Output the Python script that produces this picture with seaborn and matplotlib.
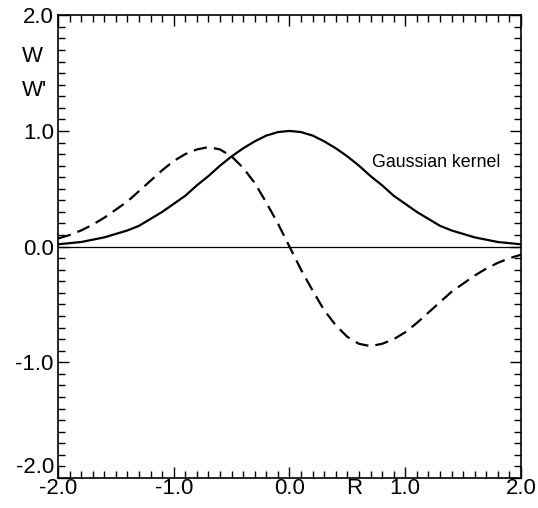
import numpy as np
import pandas as pd
import matplotlib
matplotlib.use("Agg")
import matplotlib.pyplot as plt
import seaborn as sns
from matplotlib.ticker import MultipleLocator

# values, step 0.1 in R
r = [-2.0, -1.9, -1.8, -1.7, -1.6, -1.5, -1.4, -1.3, -1.2, -1.1, -1.0,
     -0.9, -0.8, -0.7, -0.6, -0.5, -0.4, -0.3, -0.2, -0.1, 0.0,
     0.1, 0.2, 0.3, 0.4, 0.5, 0.6, 0.7, 0.8, 0.9, 1.0,
     1.1, 1.2, 1.3, 1.4, 1.5, 1.6, 1.7, 1.8, 1.9, 2.0]
w = [0.02, 0.03, 0.04, 0.06, 0.08, 0.11, 0.14, 0.18, 0.24, 0.30, 0.37,
     0.44, 0.53, 0.61, 0.70, 0.78, 0.85, 0.91, 0.96, 0.99, 1.00,
     0.99, 0.96, 0.91, 0.85, 0.78, 0.70, 0.61, 0.53, 0.44, 0.37,
     0.30, 0.24, 0.18, 0.14, 0.11, 0.08, 0.06, 0.04, 0.03, 0.02]
dw = [0.07, 0.10, 0.14, 0.19, 0.25, 0.32, 0.39, 0.48, 0.57, 0.66, 0.74,
      0.80, 0.84, 0.86, 0.84, 0.78, 0.68, 0.55, 0.38, 0.20, 0.00,
      -0.20, -0.38, -0.55, -0.68, -0.78, -0.84, -0.86, -0.84, -0.80, -0.74,
      -0.66, -0.57, -0.48, -0.39, -0.32, -0.25, -0.19, -0.14, -0.10, -0.07]

ytick_vals = [-2.0, -1.0, 0.0, 1.0, 2.0]
xtick_vals = [-2.0, -1.0, 0.0, 1.0, 2.0]

df = pd.DataFrame({"R": r, "W": w, "dW": dw})

sns.set_theme(style="ticks")
plt.rcParams["font.family"] = ["Liberation Sans", "DejaVu Sans"]
plt.rcParams["text.color"] = "black"

fig = plt.figure(figsize=(5.38, 5.08), dpi=100)
ax = fig.add_axes([0.1078, 0.059, 0.8606, 0.911])

ax.axhline(0.0, color="black", lw=0.9, zorder=1)
sns.lineplot(data=df, x="R", y="W", ax=ax, color="black", lw=1.6)
sns.lineplot(data=df, x="R", y="dW", ax=ax, color="black", lw=1.6,
             dashes=False, linestyle=(0, (6, 3.2)))

ax.set_xlim(-2, 2)
ax.set_ylim(-2, 2)
ax.set_xticks(xtick_vals)
ax.set_yticks(ytick_vals)
ax.set_xticklabels(["%.1f" % v for v in xtick_vals])
ax.set_yticklabels(["%.1f" % v for v in ytick_vals])
ax.xaxis.set_minor_locator(MultipleLocator(0.1))
ax.yaxis.set_minor_locator(MultipleLocator(0.1))
ax.tick_params(which="both", direction="in", top=True, right=True,
               color="black", width=1.0)
ax.tick_params(which="major", length=8, labelsize=16, labelcolor="black")
ax.tick_params(which="minor", length=5)
ax.tick_params(axis="x", which="major", pad=0)
ax.tick_params(axis="y", which="major", pad=3)
ax.get_yticklabels()[0].set_va("bottom")

for s in ax.spines.values():
    s.set_color("black")
    s.set_linewidth(1.2)

ax.set_xlabel("")
ax.set_ylabel("")
ax.text(0.56, -2.0, "R", fontsize=16, color="black", ha="center", va="top",
        clip_on=False)
ax.text(-2.31, 1.64, "W", fontsize=16, color="black", ha="left", va="center",
        clip_on=False)
ax.text(-2.31, 1.35, "W'", fontsize=16, color="black", ha="left", va="center",
        clip_on=False)
ax.text(0.71, 0.73, "Gaussian kernel", fontsize=12.8, color="black",
        ha="left", va="center")

fig.savefig("out.png", dpi=100)
